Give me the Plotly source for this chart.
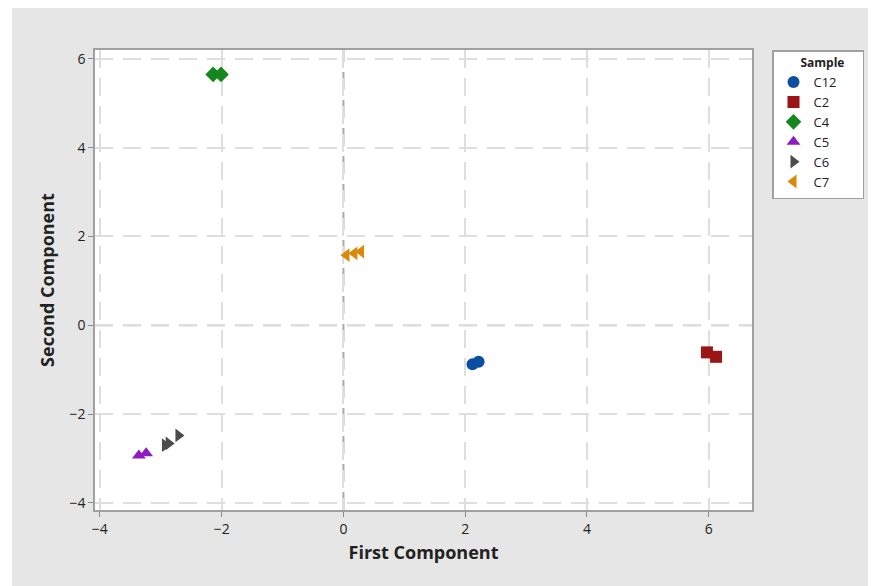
import plotly.graph_objects as go

samples = ["C12", "C2", "C4", "C5", "C6", "C7"]
first_comp = {
    "C12": [2.12, 2.22],
    "C2": [5.97, 6.12],
    "C4": [-2.14, -2.01],
    "C5": [-3.36, -3.24],
    "C6": [-2.93, -2.87, -2.71],
    "C7": [0.05, 0.18, 0.29],
}
second_comp = {
    "C12": [-0.88, -0.82],
    "C2": [-0.61, -0.71],
    "C4": [5.65, 5.65],
    "C5": [-2.93, -2.88],
    "C6": [-2.70, -2.66, -2.48],
    "C7": [1.58, 1.62, 1.66],
}
colors = {"C12": "#0B4EA2", "C2": "#9A1515", "C4": "#16871E", "C5": "#8F1CC0",
          "C6": "#4B4B4B", "C7": "#D98A0A"}
symbols = {"C12": "circle", "C2": "square", "C4": "diamond", "C5": "triangle-up",
           "C6": "triangle-right", "C7": "triangle-left"}
x_ticks = [-4, -2, 0, 2, 4, 6]
y_ticks = [-4, -2, 0, 2, 4, 6]

NB = "\u00a0"
fig = go.Figure()
for s in samples:
    fig.add_trace(go.Scatter(
        x=first_comp[s], y=second_comp[s], mode="markers", name=s + NB * 6,
        marker=dict(symbol=symbols[s], color=colors[s], size=12, line=dict(width=0)),
    ))

# page body has an 8px offset; figure sized to fit the window
W, H = 868, 578
ml, mr, mt, mb = 87, 124, 42, 76
pw, ph = W - ml - mr, H - mt - mb

def px(xp):
    return (xp - ml) / pw

def py(yp):
    return 1 - (yp - mt) / ph

shapes = [
    dict(type="rect", xref="paper", yref="paper", x0=px(-10), x1=px(4), y0=py(H + 5), y1=py(-5),
         fillcolor="white", line=dict(width=0), layer="below"),
    dict(type="line", xref="x", yref="paper", x0=0, x1=0, y0=0, y1=1,
         line=dict(color="#aaaaaa", width=2, dash="18px,10px"), layer="between"),
    dict(type="line", xref="paper", yref="y", x0=0, x1=1, y0=0, y1=0,
         line=dict(color="#aaaaaa", width=2, dash="18px,10px"), layer="between"),
]

axis_common = dict(
    showline=True, mirror=True, linecolor="#a0a0a0", linewidth=1.5,
    showgrid=True, gridcolor="#dedede", gridwidth=2, griddash="18px,10px",
    zeroline=False, ticks="outside", ticklen=5, tickcolor="#8a8a8a",
    tickfont=dict(family="Open Sans", size=14, color="#222"),
)

fig.update_layout(
    width=W, height=H,
    margin=dict(l=ml, r=mr, t=mt, b=mb),
    paper_bgcolor="#e6e6e6", plot_bgcolor="white",
    shapes=shapes,
    xaxis=dict(range=[-4.08, 6.71], tickvals=x_ticks,
               title=dict(text="<b>First Component</b>", font=dict(family="Open Sans", size=18, color="#222"), standoff=10),
               **axis_common),
    yaxis=dict(range=[-4.16, 6.2], tickvals=y_ticks,
               title=dict(text="<b>Second Component</b>", font=dict(family="Open Sans", size=18, color="#222"), standoff=10),
               **axis_common),
    legend=dict(
        title=dict(text=NB * 8 + "<b>Sample</b>", font=dict(family="Open Sans", size=12, color="#222")),
        font=dict(family="Open Sans", size=13, color="#222"),
        x=px(764), y=1.0, xanchor="left", yanchor="top",
        bgcolor="white", bordercolor="#a0a0a0", borderwidth=1.5,
        tracegroupgap=0,
    ),
    showlegend=True,
)

fig.write_html("out.html")
